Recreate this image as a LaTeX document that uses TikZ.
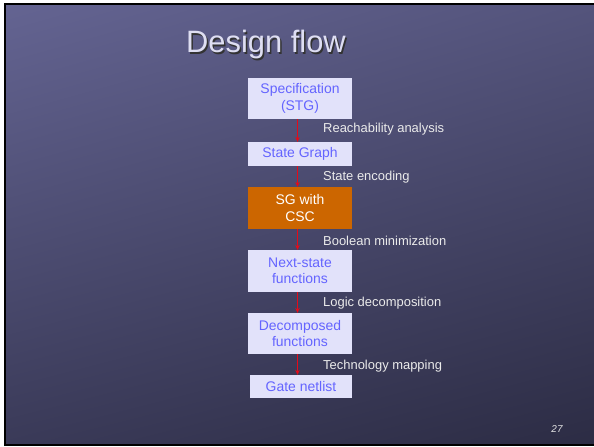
\documentclass[tikz,border=0pt]{standalone}
\usepackage{fontspec}
\setmainfont{Liberation Sans}
\usetikzlibrary{arrows.meta, calc, shadings}

\definecolor{slidetl}{RGB}{100,100,146}
\definecolor{slidetr}{RGB}{84,84,124}
\definecolor{slidebl}{RGB}{58,58,88}
\definecolor{slidebr}{RGB}{44,44,68}
\definecolor{boxfill}{RGB}{226,226,250}
\definecolor{boxtext}{RGB}{100,100,255}
\definecolor{csc}{RGB}{204,102,0}
\definecolor{titletext}{RGB}{222,222,242}
\definecolor{flowred}{RGB}{230,10,25}

\tikzset{
	stage/.style={fill=boxfill, text=boxtext, minimum width=104pt, inner sep=0pt,
		align=center, font=\fontsize{14}{16.5}\selectfont},
	cscstage/.style={stage, fill=csc, text=white},
	steplabel/.style={anchor=west, text=white!92!black, inner sep=0pt,
		font=\fontsize{13}{15}\selectfont},
	flow/.style={color=flowred, line width=1.6pt, -{Stealth[length=5pt,width=4.5pt]}}
}

\begin{document}
\begin{tikzpicture}[x=1bp, y=-1bp]
	\useasboundingbox (0,0) rectangle (594,447);
	% slide
	\shade[upper left=slidetl, upper right=slidetr, lower left=slidebl, lower right=slidebr]
		(5,4) rectangle (594,445);
	\draw[line width=1.5pt] (5,4) rectangle (595,445);
	% title
	\node[text=black!80, font=\fontsize{31}{34}\selectfont] at (267.5,46.5) {Design flow};
	\node (title) [text=titletext, font=\fontsize{31}{34}\selectfont] at (266,45) {Design flow};
	% stages
	\node (spec) [stage, minimum height=41pt] at (300,98.5) {Specification\\(STG)};
	\node (sg)   [stage, minimum height=24pt] at (300,154) {State Graph};
	\node (csc)  [cscstage, minimum height=42pt] at (300,208) {SG with\\CSC};
	\node (nsf)  [stage, minimum height=42pt] at (300,271) {Next-state\\functions};
	\node (dec)  [stage, minimum height=41pt] at (300,333.5) {Decomposed\\functions};
	\node (gate) [stage, minimum height=23pt, minimum width=102pt] at (301,386.5) {Gate netlist};
	% steps
	\foreach \a/\b in {spec/sg, sg/csc, csc/nsf, nsf/dec, dec/gate}
		\draw[flow] ([xshift=-2.5pt]\a.south) -- ([xshift=-2.5pt]\a.south |- \b.north);
	\node (reach) [steplabel] at (323,129) {Reachability analysis};
	\node (enc)   [steplabel] at (323,177) {State encoding};
	\node (bool)  [steplabel] at (323,241) {Boolean minimization};
	\node (logic) [steplabel] at (323,303) {Logic decomposition};
	\node (tech)  [steplabel] at (323,366) {Technology mapping};
	% page number
	\node (page) [text=white!90!black, font=\fontsize{10}{11}\selectfont\itshape] at (557,429) {27};
\end{tikzpicture}
\end{document}
